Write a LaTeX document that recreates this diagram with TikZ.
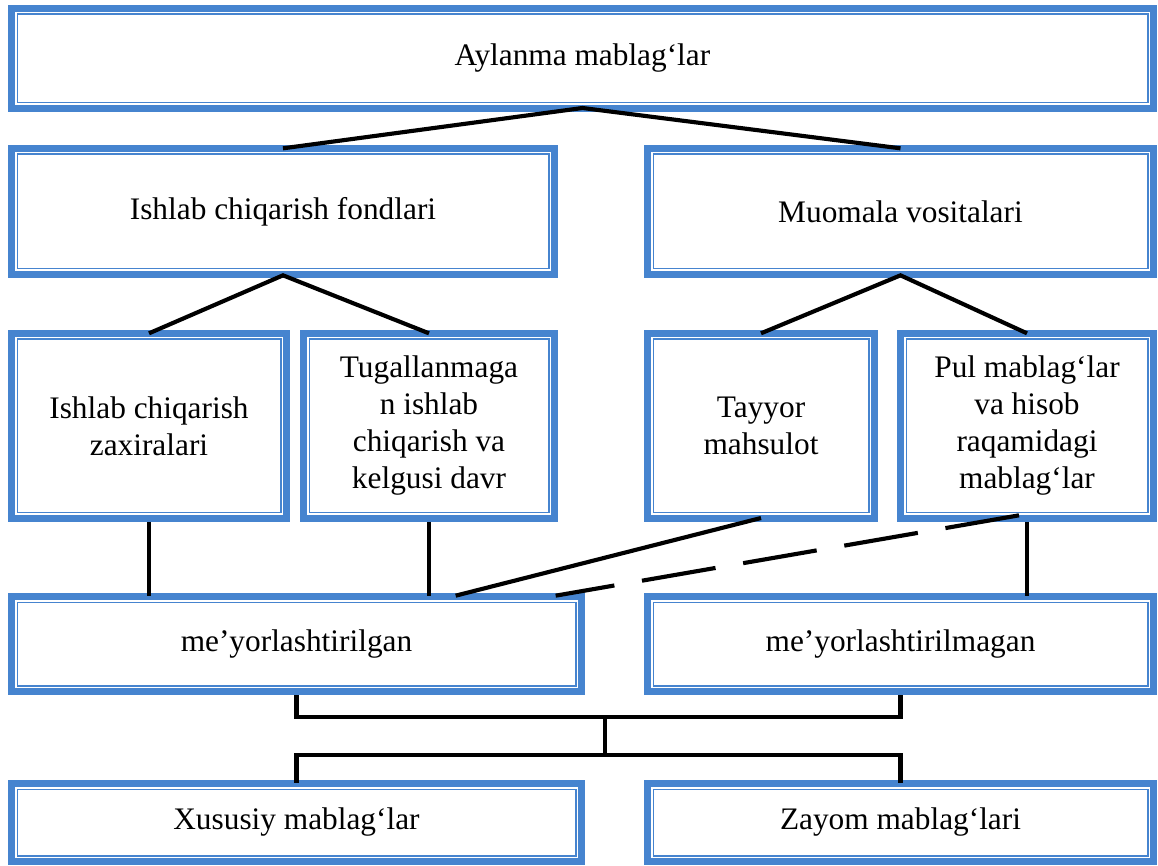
\documentclass[tikz,border=0pt]{standalone}
\usepackage{fontspec}
\setmainfont{Liberation Serif}
\usetikzlibrary{positioning}

\definecolor{boxblue}{RGB}{70,132,207}
\newcommand{\diagfont}{\fontsize{23.5}{27.75}\selectfont}

\tikzset{
  box/.style={draw=boxblue, line width=5.25pt, fill=white, inner sep=0pt, align=center, font=\diagfont,
    path picture={\draw[boxblue, line width=1.1pt] ([xshift=4.3pt,yshift=4.3pt]path picture bounding box.south west) rectangle ([xshift=-4.3pt,yshift=-4.3pt]path picture bounding box.north east);}},
  link/.style={draw=black, line width=3.1pt},
}

\begin{document}
\begin{tikzpicture}[x=0.75pt,y=-0.75pt]
    \useasboundingbox (0,0) rectangle (1158,866);

    %Shape: Rectangle (top)
    \node[box, minimum width=856.5pt, minimum height=75pt] (aylanma) at (582.5,58.5) {Aylanma mablag‘lar};

    %Shape: Rectangle (second row)
    \node[box, minimum width=407.25pt, minimum height=94.5pt] (fond) at (283,211.5) {Ishlab chiqarish fondlari};
    \node[box, minimum width=379.5pt, minimum height=94.5pt] (muomala) at (900.5,211.5) {Muomala vositalari};

    %Shape: Rectangle (third row)
    \node[box, minimum width=206.25pt, minimum height=138.75pt] (zaxira) at (149,426) {Ishlab chiqarish\\zaxiralari};
    \node[box, minimum width=188.25pt, minimum height=138.75pt] (tugal) at (429,426) {Tugallanmaga\\n ishlab\\chiqarish va\\kelgusi davr};
    \node[box, minimum width=170.25pt, minimum height=138.75pt] (tayyor) at (761,426) {Tayyor\\mahsulot};
    \node[box, minimum width=189.75pt, minimum height=138.75pt] (pul) at (1027,426) {Pul mablag‘lar\\va hisob\\raqamidagi\\mablag‘lar};

    %Shape: Rectangle (fourth row)
    \node[box, minimum width=427.5pt, minimum height=71.25pt] (meyor) at (296.5,644) {me’yorlashtirilgan};
    \node[box, minimum width=379.5pt, minimum height=71.25pt] (meyorm) at (900.5,644) {me’yorlashtirilmagan};

    %Shape: Rectangle (bottom row)
    \node[box, minimum width=427.5pt, minimum height=58.5pt] (xususiy) at (296.5,822.5) {Xususiy mablag‘lar};
    \node[box, minimum width=379.5pt, minimum height=58.5pt] (zayom) at (900.5,822.5) {Zayom mablag‘lari};

    \coordinate (joinup) at (605,717);
    \coordinate (joindown) at (605,755);

    %Straight Lines
    \draw[link] ([yshift=-2.5pt]fond.north) -- ([yshift=3pt]aylanma.south) -- ([yshift=-2.5pt]muomala.north);
    \draw[link] ([yshift=-2.5pt]zaxira.north) -- ([yshift=2pt]fond.south) -- ([yshift=-2.5pt]tugal.north);
    \draw[link] ([yshift=-2.5pt]tayyor.north) -- ([yshift=2pt]muomala.south) -- ([yshift=-2.5pt]pul.north);

    \draw[link] (zaxira.south) -- ([yshift=-2pt]zaxira.south |- meyor.north);
    \draw[link] (tugal.south) -- ([yshift=-2pt]tugal.south |- meyor.north);
    \draw[link] ([yshift=3pt]tayyor.south) -- ([xshift=-97pt,yshift=-2pt]meyor.north east);
    \draw[link, dash pattern=on 56pt off 21pt] ([xshift=-6pt,yshift=5pt]pul.south) -- ([xshift=-22pt,yshift=-2pt]meyor.north east);
    \draw[link] (pul.south) -- ([yshift=-2pt]pul.south |- meyorm.north);

    \draw[link] (meyor.south) |- (joinup) -| (meyorm.south);
    \draw[link] (joinup) -- (joindown);
    \draw[link] ([yshift=-2pt]xususiy.north) |- (joindown) -| ([yshift=-2pt]zayom.north);

\end{tikzpicture}
\end{document}
